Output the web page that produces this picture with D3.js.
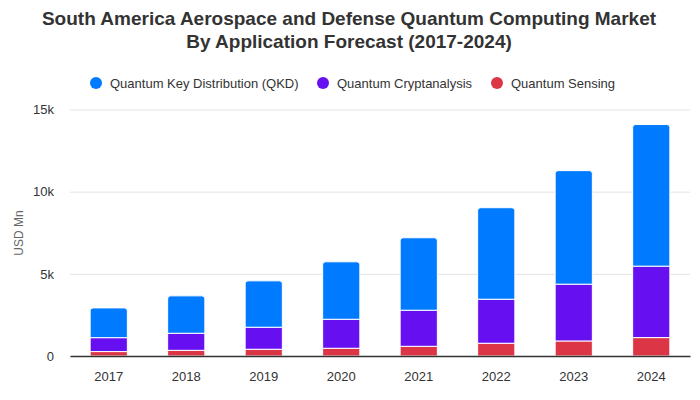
<!DOCTYPE html>
<html><head><meta charset="utf-8">
<script src="https://cdn.jsdelivr.net/npm/d3@7"></script>
<style>body{margin:0;background:#fff;font-family:"Liberation Sans",Arial,sans-serif;} svg text{font-family:"Liberation Sans",Arial,sans-serif;}</style>
</head><body><svg id="c" width="700" height="400"></svg>
<script>
const years = ["2017","2018","2019","2020","2021","2022","2023","2024"];
const seriesNames = ["Quantum Sensing","Quantum Cryptanalysis","Quantum Key Distribution (QKD)"];
const sensing = [270, 345, 410, 470, 590, 775, 915, 1120];
const cryptanalysis = [846, 1039, 1340, 1766, 2195, 2680, 3455, 4347];
const qkd = [1811, 2275, 2823, 3496, 4410, 5569, 6910, 8618];
const colors = ["#dc3545", "#6610f2", "#007bff"];
const yTicks = [0, 5000, 10000, 15000];
const yTickLabels = ["0", "5k", "10k", "15k"];
const legendOrder = [2, 1, 0];

const svg = d3.select("#c");
const m = {left: 70, right: 10, top: 110, bottom: 44};
const W = 700, H = 400;
const x = d3.scaleBand().domain(years).range([m.left, W - m.right]).paddingInner(0.52).paddingOuter(0.26);
const y = d3.scaleLinear().domain([0, 15000]).range([356, 109.5]);

svg.append("text").attr("x", 349).attr("y", 25).attr("text-anchor", "middle")
  .attr("font-size", 19).attr("font-weight", "bold").attr("fill", "#333")
  .text("South America Aerospace and Defense Quantum Computing Market");
svg.append("text").attr("x", 349).attr("y", 48).attr("text-anchor", "middle")
  .attr("font-size", 19).attr("font-weight", "bold").attr("fill", "#333")
  .text("By Application Forecast (2017-2024)");

// grid
const yAxis = d3.axisLeft(y).tickValues(yTicks).tickFormat((d, i) => yTickLabels[i]).tickSize(-(W - m.left - m.right)).tickPadding(16);
const gy = svg.append("g").attr("transform", `translate(${m.left},0)`).call(yAxis);
gy.select(".domain").remove();
gy.selectAll(".tick line").attr("stroke", "#e3e3e3");
gy.selectAll(".tick text").attr("font-size", 13).attr("fill", "#333").attr("font-family", "'Liberation Sans',Arial,sans-serif");

svg.append("text").attr("transform", "translate(23,233) rotate(-90)").attr("text-anchor", "middle")
  .attr("font-size", 12).attr("fill", "#666").text("USD Mn");

const data = years.map((yr, i) => ({year: yr, s0: sensing[i], s1: cryptanalysis[i], s2: qkd[i]}));
const stack = d3.stack().keys(["s0", "s1", "s2"])(data);

stack.forEach((layer, li) => {
  svg.append("g").selectAll("path").data(layer).join("path")
    .attr("fill", colors[li]).attr("stroke", "#fff").attr("stroke-width", 1)
    .attr("d", d => {
      const x0 = x(d.data.year), w = x.bandwidth();
      const yTop = y(d[1]), yBot = y(d[0]);
      if (li === 2) {
        const r = 3;
        return `M${x0},${yBot}V${yTop + r}Q${x0},${yTop} ${x0 + r},${yTop}H${x0 + w - r}Q${x0 + w},${yTop} ${x0 + w},${yTop + r}V${yBot}Z`;
      }
      return `M${x0},${yBot}V${yTop}H${x0 + w}V${yBot}Z`;
    });
});

// x axis
const gx = svg.append("g").attr("transform", `translate(0,${y(0)})`).call(d3.axisBottom(x).tickSize(0).tickPadding(16));
gx.select(".domain").attr("stroke", "#333").attr("stroke-width", 1.5);
gx.selectAll(".tick text").attr("font-size", 13).attr("fill", "#333").attr("font-family", "'Liberation Sans',Arial,sans-serif");

// legend
const legendX = [96, 323, 497];
const lg = svg.append("g");
legendOrder.forEach((si, k) => {
  const g = lg.append("g").attr("transform", `translate(${legendX[k]},83)`);
  g.append("circle").attr("r", 6).attr("fill", colors[si]);
  g.append("text").attr("x", 14).attr("dy", "0.35em").attr("font-size", 13).attr("fill", "#333").text(seriesNames[si]);
});
</script></body></html>
